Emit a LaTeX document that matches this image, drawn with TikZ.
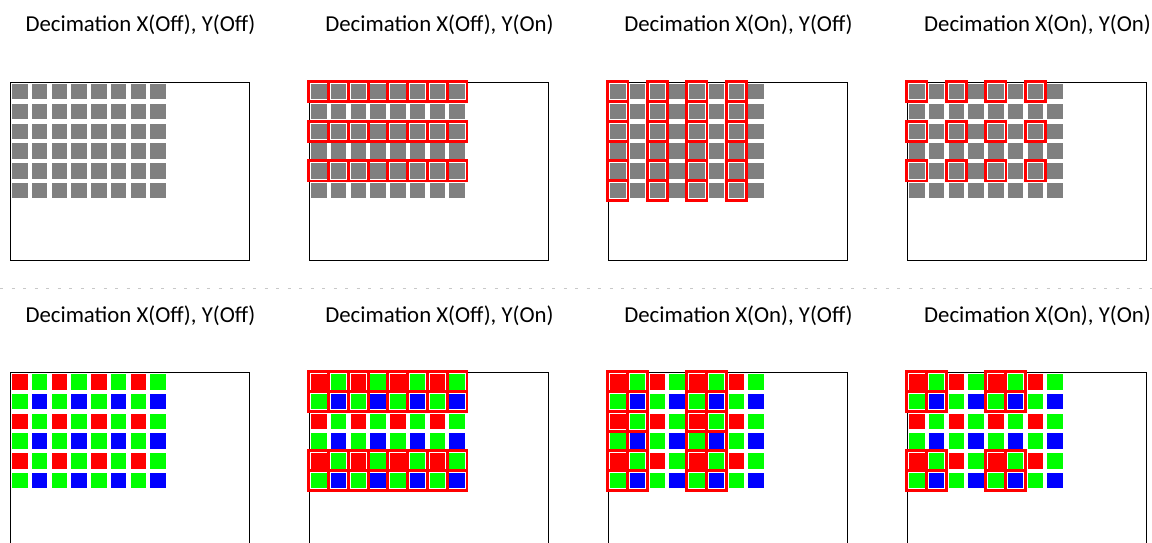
\documentclass[tikz,border=0pt]{standalone}
\usepackage{fontspec}
\setmainfont{Carlito}
\usepackage{tikz}
\usetikzlibrary{positioning}
\usepackage{xcolor}
\definecolor{pixgray}  {RGB}{128,128,128}
\definecolor{pixred}   {RGB}{255,  0,  0}
\definecolor{pixgreen} {RGB}{  0,255,  0}
\definecolor{pixblue}  {RGB}{  0,  0,255}
\definecolor{seplight} {RGB}{200,200,200}
\newcommand{\pixsq}[5]{\fill[#1] ({#2+19.75*(#4)},{#3+19.75*(#5)}) rectangle ++(15.5,15.5);}
\newcommand{\pickcell}[4]{\draw[pick] ({#1+19.75*(#3)-2.3},{#2+19.75*(#4)-2.3}) rectangle ++(20.1,20.1);}

\begin{document}
\begin{tikzpicture}[
    x=1pt, y=-1pt,
    title/.style={anchor=base, inner sep=0pt, font=\fontsize{22.8}{26}\selectfont},
    frame/.style={draw, line width=1.4pt, anchor=north west, minimum width=239pt, inner sep=0pt},
    pick/.style={draw=pixred, line width=2.6pt},
    sep/.style={draw=seplight, line width=0.8pt, dash pattern=on 3pt off 8.5pt}
]
    \useasboundingbox (0,0) rectangle (1152,543);
    \clip (0,0) rectangle (1152,543);

    % titles and sensor frames
    \foreach \k/\lbl in {0/{X(Off), Y(Off)}, 1/{X(Off), Y(On)}, 2/{X(On), Y(Off)}, 3/{X(On), Y(On)}} {
        \node[title] (mono-\k) at (140.5+299*\k, 32) {Decimation \lbl};
        \node[frame, minimum height=178pt] (monof-\k) at (10+299*\k, 82) {};
        \node[title] (bayer-\k) at (140.5+299*\k, 322) {Decimation \lbl};
        \node[frame, minimum height=200pt] (bayerf-\k) at (10+299*\k, 372) {};
    }
    \draw[sep] (0,288) -- (1152,288);

    % mono pixels
    \foreach \k in {0,...,3} {
        \foreach \i in {0,...,7} {
            \foreach \j in {0,...,5} {\pixsq{pixgray}{12+299*\k}{84}{\i}{\j}}
        }
    }

    % bayer pixels
    \foreach \k in {0,...,3} {
        \foreach \i in {0,2,4,6} {
            \foreach \j in {0,2,4} {
                \pixsq{pixred}{12+299*\k}{374}{\i}{\j}
                \pixsq{pixgreen}{12+299*\k}{374}{\i+1}{\j}
                \pixsq{pixgreen}{12+299*\k}{374}{\i}{\j+1}
                \pixsq{pixblue}{12+299*\k}{374}{\i+1}{\j+1}
            }
        }
    }

    % picked pixels, mono
    \foreach \i in {0,...,7} {\foreach \j in {0,2,4} {\pickcell{311}{84}{\i}{\j}}}
    \foreach \i in {0,2,4,6} {\foreach \j in {0,...,5} {\pickcell{610}{84}{\i}{\j}}}
    \foreach \i in {0,2,4,6} {\foreach \j in {0,2,4} {\pickcell{909}{84}{\i}{\j}}}

    % picked pixels, bayer
    \foreach \i in {0,...,7} {\foreach \j in {0,1,4,5} {\pickcell{311}{374}{\i}{\j}}}
    \foreach \i in {0,1,4,5} {\foreach \j in {0,...,5} {\pickcell{610}{374}{\i}{\j}}}
    \foreach \i in {0,1,4,5} {\foreach \j in {0,1,4,5} {\pickcell{909}{374}{\i}{\j}}}
\end{tikzpicture}
\end{document}
